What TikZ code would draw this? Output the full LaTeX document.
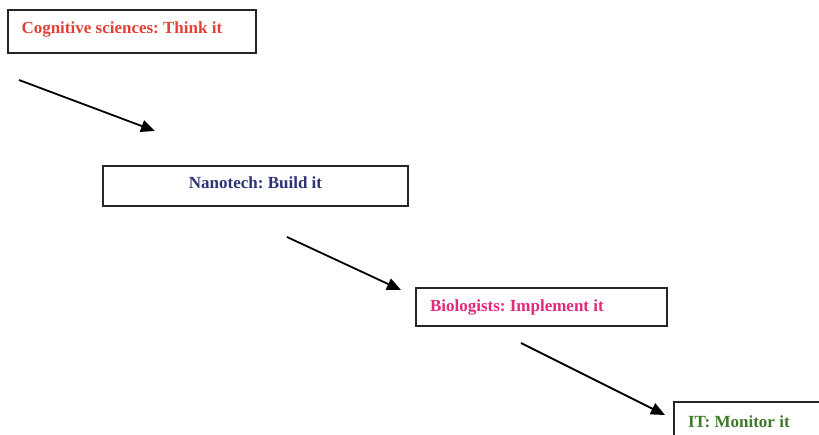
\documentclass[tikz,border=0pt]{standalone}
\usepackage{fontspec}
\setmainfont{Liberation Serif}
\frenchspacing
\usetikzlibrary{arrows.meta,positioning}
\definecolor{Think}{HTML}{E3403A}
\definecolor{Build}{HTML}{2C3477}
\definecolor{Implement}{HTML}{E4287A}
\definecolor{Monitor}{HTML}{3E7A2B}
\tikzset{
  stage/.style={draw=black!85,line width=2pt,rectangle,anchor=north west,inner ysep=0pt,font=\fontsize{17}{20}\selectfont\bfseries},
  leftstage/.style={stage,inner xsep=14pt,align=flush left},
  arr/.style={-{Triangle[length=14pt,width=12pt]},line width=1.8pt,draw=black}
}
\begin{document}
\begin{tikzpicture}[x=1pt,y=-1pt]
  \clip (0,0) rectangle (819,435);
  \node[leftstage,text=Think,text width=220pt,minimum height=43pt,text height=12pt,text depth=8pt] (think) at (6.5,9) {Cognitive sciences: Think it};
  \node[stage,text=Build,minimum width=305pt,minimum height=40pt,text height=12pt,text depth=6pt] (build) at (102,165) {Nanotech: Build it};
  \node[leftstage,text=Implement,text width=223pt,minimum height=38pt,text height=12pt,text depth=2pt] (implement) at (415,287) {Biologists: Implement it};
  \node[leftstage,text=Monitor,text width=160pt,minimum height=50pt,text height=12pt,text depth=12pt] (monitor) at (673,401) {IT: Monitor it};
  % free-floating arrows between the stages
  \coordinate (thinkout) at (19,80);
  \coordinate (buildin) at (155,131);
  \coordinate (buildout) at (287,237);
  \coordinate (implin) at (401,290);
  \coordinate (implout) at (521,343);
  \coordinate (monin) at (665,415);
  \draw[arr] (thinkout)--(buildin);
  \draw[arr] (buildout)--(implin);
  \draw[arr] (implout)--(monin);
\end{tikzpicture}
\end{document}
